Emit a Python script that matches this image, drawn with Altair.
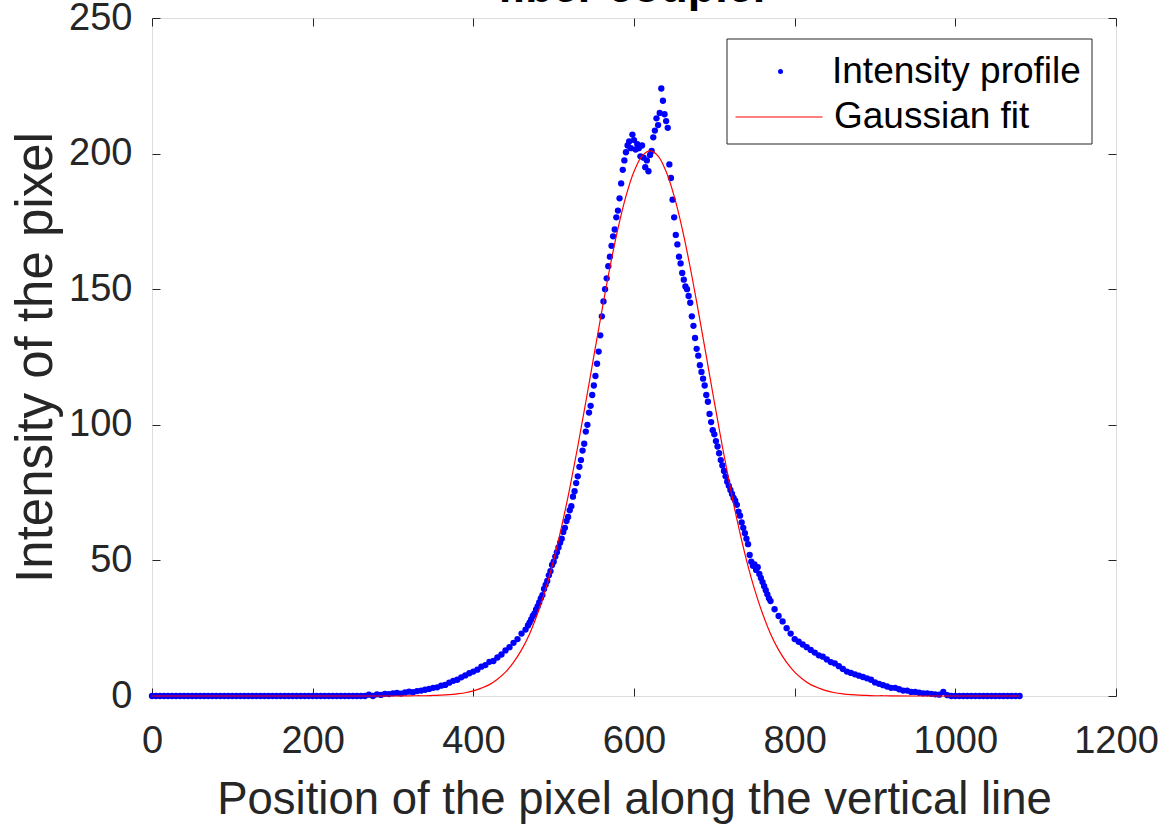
import altair as alt
import pandas as pd

FONT = "Liberation Sans"
INK = "#262626"

# ---- intensity profile ----
prof_x_a = list(range(0, 470, 5))
prof_y_a = [0, 0, 0, 0, 0, 0, 0, 0, 0, 0,
            0, 0, 0, 0, 0, 0, 0, 0, 0, 0,
            0, 0, 0, 0, 0, 0, 0, 0, 0, 0,
            0, 0, 0, 0, 0, 0, 0, 0, 0, 0,
            0, 0, 0, 0, 0, 0, 0, 0, 0, 0,
            0, 0, 0, 0,
            0.5, 0, 0.6, 0.4, 0.8, 0.7, 1.0, 1.1, 0.9, 1.3,
            1.6, 1.4, 1.8, 2.0, 2.3, 2.6, 3.0, 3.2, 3.8, 4.1,
            4.9, 5.6, 6.0, 6.9, 7.6, 8.4, 9.0, 9.7, 10.8, 11.4,
            12.6, 12.9, 14.2, 15.3, 16.8, 18.0, 19.6, 21.0, 23.0, 24.5]

prof_x_b = list(range(468, 772, 2))
prof_y_b = [26.0, 27.0, 28.2, 29.5, 30.4, 31.8, 33.0, 34.5, 36.0, 37.2,
            39.5, 41.0, 42.4, 44.5, 46.0, 48.3, 49.5, 51.4, 53.0, 54.8,
            56.5, 58.0, 60.5, 62.0, 64.5, 66.0, 68.5, 70.0, 73.5, 75.5,
            78.5, 81.0, 84.5, 87.0, 90.5, 93.0, 97.5, 100.0, 104.5, 107.0,
            111.0, 114.5, 118.0, 122.5, 127.0, 133.0, 140.0, 145.5, 150.0, 154.0,
            158.5, 162.0, 166.0, 169.5, 172.0, 176.5, 179.0, 183.5, 189.0, 194.0,
            197.5, 200.5, 203.0, 204.5, 202.0, 207.0, 205.0, 201.5, 203.5, 202.0,
            199.0, 203.0, 198.5, 195.0, 197.5, 193.5, 199.5, 201.0, 206.0, 208.5,
            213.0, 210.5, 215.0, 224.0, 219.5, 214.5, 212.0, 209.5, 196.0, 191.0,
            183.0, 176.5, 170.0, 166.5, 162.0, 159.5, 156.0, 153.5, 151.0, 150.0,
            147.5, 145.0, 140.0, 136.5, 132.0, 128.0, 125.5, 122.0, 119.5, 117.0,
            114.5, 111.0, 108.5, 104.0, 101.0, 98.0, 96.5, 94.0, 92.0, 89.5,
            87.0, 85.0, 83.0, 81.0, 79.0, 77.5, 76.0, 74.5, 73.0, 72.0,
            70.5, 68.0, 66.5, 64.0, 62.0, 60.0, 58.0, 56.0, 52.0, 49.5,
            48.0, 48.5, 46.5, 47.5, 45.0, 43.5, 42.0, 40.5, 39.0, 37.5,
            36.0, 35.0]

prof_x_c = list(range(775, 1085, 5))
prof_y_c = [32.0, 29.5, 27.5, 25.0, 23.0, 21.0, 20.0, 19.0, 18.0, 17.0,
            16.0, 15.0, 14.5, 13.5, 12.5, 12.0, 11.0, 10.0, 9.0, 8.5,
            8.0, 7.5, 7.0, 6.5, 6.0, 5.0, 4.5, 4.0, 3.5, 3.0,
            3.0, 2.5, 2.0, 2.0, 1.5, 1.5, 1.2, 1.0, 1.0, 0.8,
            0.6, 0.5, 1.5, 0.3, 0,
            0, 0, 0, 0, 0, 0, 0, 0, 0, 0, 0, 0, 0, 0, 0, 0, 0]

# ---- Gaussian fit ----
fit_x = [0, 100, 200, 300, 320, 330, 340, 350, 360, 370, 380, 390, 400, 410,
         420, 430, 440, 450, 460, 470, 480, 490, 500, 510, 520, 530, 540, 550,
         560, 570, 580, 590, 600, 610, 620, 630, 640, 650, 660, 670, 680, 690,
         700, 710, 720, 730, 740, 750, 760, 770, 780, 790, 800, 810, 820, 830,
         840, 850, 860, 870, 880, 890, 900, 910, 920, 950, 1000, 1080]
fit_y = [0, 0, 0, 0, 0.05, 0.1, 0.1, 0.2, 0.3, 0.5, 0.8, 1.2, 1.9, 2.9,
         4.2, 6.2, 8.8, 12.4, 17.0, 22.9, 30.4, 39.4, 50.1, 62.6, 76.6, 92.0, 108.4, 125.3,
         142.0, 158.0, 172.3, 184.3, 193.4, 199.1, 201.0, 199.1, 193.4, 184.3, 172.3, 158.0, 142.0, 125.3,
         108.4, 92.0, 76.6, 62.6, 50.1, 39.4, 30.4, 22.9, 17.0, 12.4, 8.8, 6.2, 4.2, 2.9,
         1.9, 1.2, 0.8, 0.5, 0.3, 0.2, 0.1, 0.1, 0.05, 0, 0, 0]

x_ticks = [0, 200, 400, 600, 800, 1000, 1200]
y_ticks = [0, 50, 100, 150, 200, 250]
series_names = ["Intensity profile", "Gaussian fit"]

prof = pd.DataFrame({
    "x": prof_x_a + prof_x_b + prof_x_c,
    "y": prof_y_a + prof_y_b + prof_y_c,
})
prof["series"] = series_names[0]
fit = pd.DataFrame({"x": fit_x, "y": fit_y})
fit["series"] = series_names[1]

xscale = alt.Scale(domain=[0, 1200], nice=False, zero=False)
yscale = alt.Scale(domain=[0, 250], nice=False, zero=False)

tick_style = dict(domain=False, grid=False, tickSize=8, offset=-8,
                  tickColor=INK, tickWidth=1, labelFont=FONT, labelFontSize=38,
                  labelColor=INK, labelFlush=False, labelOverlap=False, format="d",
                  titleFont=FONT, titleColor=INK, titleFontWeight="normal")

x_bottom = alt.Axis(values=x_ticks, orient="bottom", labelPadding=26,
                    title="Position of the pixel along the vertical line",
                    titleFontSize=45.5, titleBaseline="alphabetic", titleY=125,
                    **tick_style)
y_left = alt.Axis(values=y_ticks, orient="left", labelPadding=20,
                  title="Intensity of the pixel", titleFontSize=51,
                  titleBaseline="alphabetic", titleX=-109, titleAngle=-90,
                  **tick_style)
x_top = alt.Axis(values=x_ticks, orient="top", labels=False, title=None, **tick_style)
y_right = alt.Axis(values=y_ticks, orient="right", labels=False, title=None, **tick_style)

legend_common = dict(orient="none", title=None, labelFont=FONT, labelFontSize=37,
                     labelColor="#000000", padding=0, labelLimit=500)

box = alt.Chart(pd.DataFrame({"a": [0]})).mark_rect(
    fill="white", stroke=INK, strokeWidth=1
).encode(x=alt.value(575), x2=alt.value(940), y=alt.value(21), y2=alt.value(126))

points = alt.Chart(prof).mark_circle(size=40, opacity=1).encode(
    x=alt.X("x:Q", scale=xscale, axis=x_bottom),
    y=alt.Y("y:Q", scale=yscale, axis=y_left),
    fill=alt.Fill("series:N",
                  scale=alt.Scale(domain=[series_names[0]], range=["#0000ff"]),
                  legend=alt.Legend(legendX=610, legendY=35, symbolSize=25,
                                    symbolType="circle", labelOffset=33,
                                    **legend_common)),
)

line = alt.Chart(fit).mark_line(strokeWidth=1.2, interpolate="catmull-rom").encode(
    x=alt.X("x:Q", scale=xscale, axis=x_top),
    y=alt.Y("y:Q", scale=yscale, axis=y_right),
    stroke=alt.Stroke("series:N",
                      scale=alt.Scale(domain=[series_names[1]], range=["#ff0000"]),
                      legend=alt.Legend(legendX=583, legendY=55, symbolSize=7569,
                                        symbolType="stroke", symbolStrokeWidth=1,
                                        labelOffset=11, **legend_common)),
)

chart = alt.layer(box, points, line).resolve_axis(
    x="independent", y="independent"
).properties(
    width=964, height=678,
    autosize=alt.AutoSizeParams(type="none"),
    padding={"left": 152, "top": 18, "right": 50, "bottom": 129},
    title=alt.TitleParams("fiber coupler", font=FONT, fontSize=45, fontWeight="bold",
                          color="#000000", anchor="middle", frame="group",
                          baseline="alphabetic", offset=-48),
).configure_view(stroke=INK, strokeWidth=1).configure(background="white")

chart.save("out.html", embed_options={"renderer": "svg", "actions": False})
